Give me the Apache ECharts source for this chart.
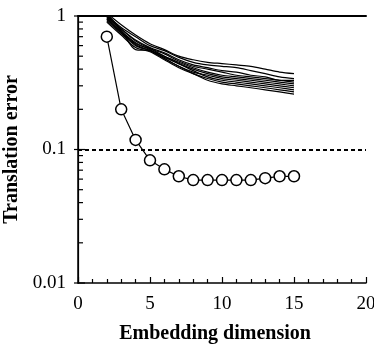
<!DOCTYPE html>
<html lang="en">
<head>
<meta charset="UTF-8">
<title>Translation error</title>
<style>
  html, body { margin: 0; padding: 0; background: #fff; }
</style>
</head>
<body>
<div id="app" style="width:374px;height:345px;"></div>
<script src="https://cdn.jsdelivr.net/npm/echarts@6/dist/echarts.min.js"></script>
<script>
// embedding dimensions
const dims = [2, 3, 4, 5, 6, 7, 8, 9, 10, 11, 12, 13, 14, 15];

// the circle curve
const circleErr = [0.70, 0.20, 0.118, 0.083, 0.071, 0.063, 0.059, 0.059, 0.059, 0.059, 0.059, 0.061, 0.063, 0.063];

// bundle of surrogate curves
const surr1  = [1.05, 0.86, 0.72, 0.62, 0.56, 0.50, 0.47, 0.45, 0.44, 0.43, 0.42, 0.40, 0.38, 0.37];
const surr2  = [1.02, 0.82, 0.70, 0.60, 0.55, 0.49, 0.45, 0.43, 0.42, 0.41, 0.39, 0.37, 0.35, 0.34];
const surr3  = [0.98, 0.80, 0.66, 0.58, 0.53, 0.47, 0.43, 0.41, 0.39, 0.38, 0.36, 0.35, 0.33, 0.33];
const surr4  = [0.95, 0.76, 0.62, 0.57, 0.52, 0.46, 0.42, 0.40, 0.38, 0.36, 0.35, 0.34, 0.33, 0.32];
const surr5  = [1.00, 0.78, 0.56, 0.55, 0.50, 0.45, 0.41, 0.38, 0.36, 0.35, 0.34, 0.33, 0.32, 0.31];
const surr6  = [0.92, 0.74, 0.60, 0.55, 0.49, 0.44, 0.40, 0.37, 0.35, 0.34, 0.33, 0.32, 0.31, 0.30];
const surr7  = [0.97, 0.77, 0.63, 0.56, 0.48, 0.42, 0.38, 0.36, 0.34, 0.33, 0.32, 0.31, 0.30, 0.29];
const surr8  = [1.04, 0.80, 0.65, 0.57, 0.50, 0.44, 0.39, 0.35, 0.33, 0.32, 0.31, 0.30, 0.29, 0.28];
const surr9  = [0.90, 0.72, 0.58, 0.54, 0.47, 0.41, 0.37, 0.34, 0.32, 0.31, 0.30, 0.29, 0.28, 0.27];
const surr10 = [0.94, 0.75, 0.61, 0.55, 0.48, 0.42, 0.37, 0.33, 0.31, 0.30, 0.29, 0.28, 0.27, 0.26];
const surrogates = [surr1, surr2, surr3, surr4, surr5, surr6, surr7, surr8, surr9, surr10];

// threshold line
const threshold = 0.1;

// log ticks on the y axis: decades plus 2..9 in between
const yMajor = [0.01, 0.1, 1];
const yMinor = [];
for (let d of [0.01, 0.1]) {
    for (let k = 2; k <= 9; k++) yMinor.push(+(k * d).toFixed(3));
}

const font = '"Liberation Serif", "DejaVu Serif", serif';
const pair = arr => dims.map((d, i) => [d, arr[i]]);

const series = surrogates.map(s => ({
    type: 'line',
    data: pair(s),
    symbol: 'none',
    smooth: 0.3,
    lineStyle: { color: '#000', width: 1.2 },
    silent: true,
    z: 2
}));

series.push({
    type: 'line',
    data: pair(circleErr),
    symbol: 'circle',
    symbolSize: 11,
    itemStyle: { color: '#fff', borderColor: '#000', borderWidth: 1.5 },
    lineStyle: { color: '#000', width: 1.2 },
    z: 5,
    markLine: {
        silent: true,
        symbol: 'none',
        label: { show: false },
        lineStyle: { color: '#000', type: [4, 3], width: 1.8 },
        data: [{ yAxis: threshold }]
    }
});

// y-axis log ticks, placed through the axis scale (majors cross the axis)
series.push({
    type: 'custom',
    silent: true,
    clip: false,
    z: 6,
    data: yMajor.map(v => [0, v, 1]).concat(yMinor.map(v => [0, v, 0])),
    renderItem: (params, api) => {
        const p = api.coord([api.value(0), api.value(1)]);
        const major = api.value(2) === 1;
        return {
            type: 'line',
            shape: { x1: p[0] - (major ? 4 : 0), y1: p[1], x2: p[0] + (major ? 7 : 5), y2: p[1] },
            style: { stroke: '#000', lineWidth: 1.2 }
        };
    }
});

const boxLine = { show: true, lineStyle: { color: '#000', width: 1.2 } };

const myChart = echarts.init(document.getElementById('app'));
myChart.setOption({
    animation: false,
    textStyle: { fontFamily: font },
    grid: { left: 78, right: 8, top: 16, bottom: 62, outerBoundsMode: 'none' },
    xAxis: [{
        type: 'value', min: 0, max: 20, interval: 5,
        name: 'Embedding dimension', nameLocation: 'middle', nameGap: 41,
        nameTextStyle: { fontFamily: font, fontSize: 20, fontWeight: 'bold', color: '#000', padding: [0, 14, 0, 0] },
        axisLine: { show: true, lineStyle: { color: '#000', width: 1.5 } },
        axisTick: { show: true, inside: true, length: 6, lineStyle: { color: '#000', width: 1.2 } },
        minorTick: { show: true, splitNumber: 5, length: 4, lineStyle: { color: '#000', width: 1.2 } },
        axisLabel: { fontFamily: font, fontSize: 19, color: '#000', margin: 12 },
        splitLine: { show: false }
    }, {
        type: 'value', min: 0, max: 20, position: 'top',
        axisLine: { show: true, lineStyle: { color: '#000', width: 2 } },
        axisTick: { show: false }, axisLabel: { show: false }, splitLine: { show: false }
    }],
    yAxis: [{
        type: 'log', logBase: 10, min: 0.01, max: 1,
        name: 'Translation error', nameLocation: 'middle', nameGap: 56,
        nameTextStyle: { fontFamily: font, fontSize: 20, fontWeight: 'bold', color: '#000' },
        axisLine: { show: true, lineStyle: { color: '#000', width: 1.5 } },
        axisTick: { show: false },
        axisLabel: {
            fontFamily: font, fontSize: 19, color: '#000', margin: 12,
            formatter: v => String(+v.toPrecision(3))
        },
        splitLine: { show: false }
    }, {
        type: 'log', logBase: 10, min: 0.01, max: 1, position: 'right',
        axisLine: boxLine,
        axisTick: { show: false }, axisLabel: { show: false }, splitLine: { show: false }
    }],
    series: series
});
</script>
</body>
</html>
